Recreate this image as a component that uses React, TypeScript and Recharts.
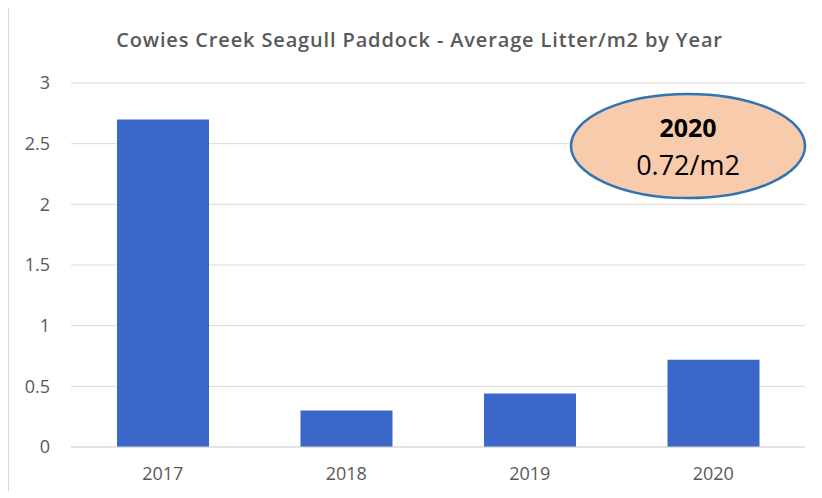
import React from 'react';
import { BarChart, Bar, XAxis, YAxis, CartesianGrid, Customized } from 'recharts';

const years = ['2017', '2018', '2019', '2020'];
const litterPerM2 = [2.7, 0.3, 0.44, 0.72];
const yTicks = [0, 0.5, 1, 1.5, 2, 2.5, 3];
const title = 'Cowies Creek Seagull Paddock - Average Litter/m2 by Year';
const calloutYear = '2020';
const calloutValue = '0.72/m2';

const data = years.map((y, i) => ({ year: y, value: litterPerM2[i] }));

const FONT = '"Open Sans", sans-serif';
const CHART_W = 808;
const CHART_H = 483;

const Overlay = () => (
  <g>
    <text x={410.5} y={39} textAnchor="middle" fontFamily={FONT} fontSize={20} fontWeight={600} letterSpacing={0.85} fill="#595959">
      {title}
    </text>
    <ellipse cx={679} cy={138} rx={117} ry={52} fill="#f8cbad" stroke="#2e75b6" strokeWidth={2.5} />
    <text x={679} y={129} textAnchor="middle" fontFamily={FONT} fontSize={25} fontWeight={700} fill="#000">
      {calloutYear}
    </text>
    <text x={679} y={167} textAnchor="middle" fontFamily={FONT} fontSize={27} fill="#000">
      {calloutValue}
    </text>
  </g>
);

export default function App() {
  return (
    <div
      style={{
        width: CHART_W + 1,
        height: CHART_H + 1,
        borderLeft: '1px solid #d9d9d9',
        borderTop: '1px solid #d9d9d9',
        boxSizing: 'border-box',
        marginTop: -1,
        background: '#fff',
      }}
    >
      <BarChart
        width={CHART_W}
        height={CHART_H}
        data={data}
        margin={{ top: 75, right: 12, bottom: 14, left: 0 }}
      >
        <CartesianGrid horizontal vertical={false} stroke="#d9d9d9" strokeWidth={1} />
        <XAxis
          dataKey="year"
          axisLine={{ stroke: '#d9d9d9' }}
          tickLine={false}
          tickSize={0}
          tickMargin={20}
          height={30}
          tick={{ fontFamily: FONT, fontSize: 18, fill: '#595959' }}
        />
        <YAxis
          domain={[0, 3]}
          ticks={yTicks}
          axisLine={false}
          tickLine={false}
          tickSize={0}
          tickMargin={21}
          width={62}
          tick={{ fontFamily: FONT, fontSize: 18, fill: '#595959' }}
        />
        <Bar dataKey="value" fill="#3b67c8" barSize={92} isAnimationActive={false} />
        <Customized component={Overlay} />
      </BarChart>
    </div>
  );
}
